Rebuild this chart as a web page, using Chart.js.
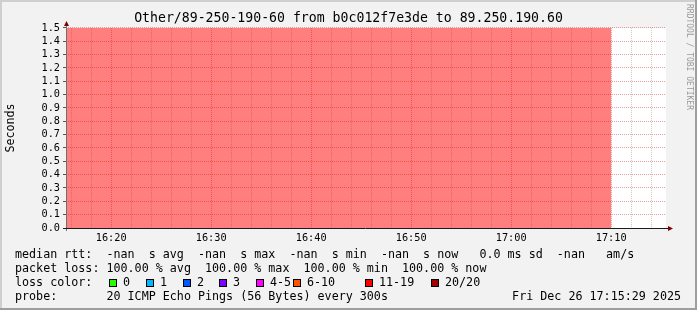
<!DOCTYPE html>
<html>
<head>
<meta charset="utf-8">
<script src="https://cdn.jsdelivr.net/npm/chart.js@4.4.1/dist/chart.umd.min.js"></script>
<style>
body { margin: 0; background: #f2f2f2; }
canvas { display: block; }
</style>
</head>
<body>
<canvas id="smokeChart" width="697" height="310"></canvas>
<script>
// smokeping last hour graph (rrdtool look)

var graphTitle = 'Other/89-250-190-60 from b0c012f7e3de to 89.250.190.60';
var viewStart = '16:15:29';
var viewEnd = '17:15:29';
var stepTimes = ['16:15','16:20','16:25','16:30','16:35','16:40','16:45','16:50','16:55','17:00','17:05','17:10'];
var lossPct = [100,100,100,100,100,100,100,100,100,100,100,100];
var yMax = 1.5;
var timeLabels = ['16:20','16:30','16:40','16:50','17:00','17:10'];

var rttLine = 'median rtt:  -nan  s avg  -nan  s max  -nan  s min  -nan  s now   0.0 ms sd  -nan   am/s';
var lossLine = 'packet loss: 100.00 % avg  100.00 % max  100.00 % min  100.00 % now';
var lossNames = ['0','1','2','3','4-5','6-10','11-19','20/20'];
var lossColors = ['#26ff00','#00b8ff','#0059ff','#7e00ff','#ff00ff','#ff5500','#ff0000','#a10000'];
var probeLine = 'probe:       20 ICMP Echo Pings (56 Bytes) every 300s';
var stampLine = 'Fri Dec 26 17:15:29 2025';
var watermark = 'RRDTOOL / TOBI OETIKER';

var MONO = '"DejaVu Sans Mono", monospace';
var MGRID = 'rgba(200,40,40,0.45)';
var GRID = 'rgba(140,140,140,0.45)';

function toMin(s) {
    var p = s.split(':');
    return (+p[0]) * 60 + (+p[1]) + (p[2] ? (+p[2]) / 60 : 0);
}
function fmtMin(v) {
    var h = Math.floor(v / 60), m = Math.round(v - h * 60);
    return h + ':' + (m < 10 ? '0' : '') + m;
}

var points = stepTimes.map(function (t, i) {
    return { x: toMin(t), y: lossPct[i] / 100 * yMax };
});

// background, axes with arrows, frame, rrd legend
var rrdLook = {
    id: 'rrdLook',
    beforeDraw: function (chart) {
        var ctx = chart.ctx, ca = chart.chartArea;
        ctx.save();
        ctx.fillStyle = '#f2f2f2';
        ctx.fillRect(0, 0, chart.width, chart.height);
        ctx.fillStyle = '#ffffff';
        ctx.fillRect(ca.left, ca.top, ca.right - ca.left, ca.bottom - ca.top);
        ctx.restore();
    },
    afterDraw: function (chart) {
        var ctx = chart.ctx, ca = chart.chartArea;
        var ax = ca.left + 0.5, ay = ca.bottom + 0.5;
        ctx.save();
        // axes
        ctx.lineWidth = 1;
        ctx.strokeStyle = '#707070';
        ctx.beginPath();
        ctx.moveTo(ax, ca.bottom + 3);
        ctx.lineTo(ax, ca.top - 2);
        ctx.stroke();
        ctx.strokeStyle = '#1a1a1a';
        ctx.beginPath();
        ctx.moveTo(ca.left - 3, ay);
        ctx.lineTo(ca.right + 2, ay);
        ctx.stroke();
        ctx.fillStyle = '#7f0000';
        ctx.beginPath();
        ctx.moveTo(ax - 2.5, ca.top - 2);
        ctx.lineTo(ax + 2.5, ca.top - 2);
        ctx.lineTo(ax, ca.top - 7);
        ctx.closePath();
        ctx.fill();
        ctx.beginPath();
        ctx.moveTo(ca.right + 2, ay - 2.5);
        ctx.lineTo(ca.right + 2, ay + 2.5);
        ctx.lineTo(ca.right + 7, ay);
        ctx.closePath();
        ctx.fill();

        // legend
        ctx.font = '11.7px ' + MONO;
        ctx.fillStyle = '#000';
        ctx.textBaseline = 'alphabetic';
        ctx.textAlign = 'left';
        ctx.fillText(rttLine, 15, 258);
        ctx.fillText(lossLine, 15, 272);
        ctx.fillText('loss color:', 15, 286);
        ctx.fillText(probeLine, 15, 300);
        var boxX = [108.7, 145.7, 182.7, 219.3, 256.3, 293.3, 365, 431];
        lossNames.forEach(function (n, i) {
            var bx = Math.round(boxX[i]);
            ctx.fillStyle = lossColors[i];
            ctx.fillRect(bx, 279, 8, 8);
            ctx.strokeStyle = '#000';
            ctx.strokeRect(bx + 0.5, 279.5, 7, 7);
            ctx.fillStyle = '#000';
            ctx.fillText(n, bx + 14, 286);
        });
        ctx.textAlign = 'right';
        ctx.fillText(stampLine, 681, 300);

        // watermark
        ctx.translate(689, 4);
        ctx.rotate(Math.PI / 2);
        ctx.font = '8px ' + MONO;
        ctx.fillStyle = '#9a9a9a';
        ctx.textAlign = 'left';
        ctx.textBaseline = 'middle';
        ctx.fillText(watermark, 0, 0);
        ctx.setTransform(1, 0, 0, 1, 0, 0);

        // 3d frame
        ctx.fillStyle = '#cfcfcf';
        ctx.fillRect(0, 0, chart.width, 2);
        ctx.fillRect(0, 0, 2, chart.height);
        ctx.fillStyle = '#9e9e9e';
        ctx.fillRect(0, chart.height - 2, chart.width, 2);
        ctx.fillRect(chart.width - 2, 0, 2, chart.height);
        ctx.restore();
    }
};

var ctx = document.getElementById('smokeChart').getContext('2d');
var smokeChart = new Chart(ctx, {
    type: 'line',
    data: {
        datasets: [{
            label: '20/20',
            data: points,
            stepped: 'before',
            fill: 'origin',
            backgroundColor: 'rgba(255,0,0,0.5)',
            borderColor: 'transparent',
            borderWidth: 0,
            pointRadius: 0
        }]
    },
    options: {
        responsive: false,
        animation: false,
        devicePixelRatio: 1,
        events: [],
        layout: { padding: 0 },
        plugins: {
            legend: { display: false },
            tooltip: { enabled: false },
            title: {
                display: true,
                text: graphTitle,
                color: '#000',
                font: { family: MONO, size: 13.2, weight: 'normal', lineHeight: 1.2 },
                padding: { top: 11, bottom: 1.1 }
            }
        },
        scales: {
            x: {
                type: 'linear',
                min: toMin(viewStart),
                max: toMin(viewEnd),
                afterFit: function (s) { s.height = 82; },
                // grid every 2 minutes on whole minutes
                afterBuildTicks: function (s) {
                    var t = [];
                    for (var v = Math.ceil(s.min / 2) * 2; v <= s.max; v += 2) t.push({ value: v });
                    s.ticks = t;
                },
                ticks: {
                    autoSkip: false,
                    maxRotation: 0,
                    minRotation: 0,
                    padding: 4,
                    color: '#000',
                    font: { family: MONO, size: 10.25 },
                    callback: function (v) {
                        var l = fmtMin(v);
                        return timeLabels.indexOf(l) >= 0 ? l : '';
                    }
                },
                grid: {
                    drawTicks: false,
                    color: function (c) {
                        return c.tick && timeLabels.indexOf(fmtMin(c.tick.value)) >= 0 ? MGRID : GRID;
                    }
                },
                border: { display: false, dash: [1, 1] }
            },
            y: {
                min: 0,
                max: yMax,
                afterFit: function (s) { s.width = 66; },
                ticks: {
                    stepSize: 0.1,
                    autoSkip: false,
                    padding: 3,
                    color: '#000',
                    font: { family: MONO, size: 10.25 },
                    callback: function (v) { return v.toFixed(1); }
                },
                grid: {
                    color: MGRID,
                    tickLength: 3,
                    tickColor: '#555',
                    tickBorderDash: []
                },
                border: { display: false, dash: [1, 1] },
                title: {
                    display: true,
                    text: 'Seconds',
                    color: '#000',
                    font: { family: MONO, size: 11.7 },
                    padding: { top: 4, bottom: 0 }
                }
            },
            yRight: {
                position: 'right',
                afterFit: function (s) { s.width = 31; },
                ticks: { display: false },
                grid: { display: false },
                border: { display: false }
            }
        }
    },
    plugins: [rrdLook]
});
</script>
</body>
</html>
